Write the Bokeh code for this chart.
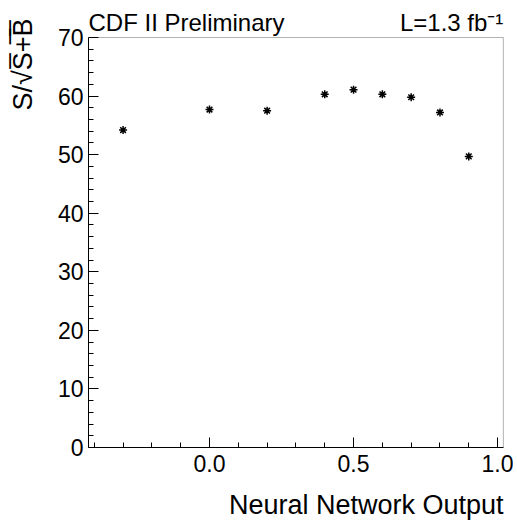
import numpy as np
from bokeh.plotting import figure
from bokeh.models import Label, Title, FixedTicker, Range1d, NumeralTickFormatter, BoxAnnotation
from bokeh.embed import file_html
from bokeh.resources import INLINE

nn_output = [-0.3, 0.0, 0.2, 0.4, 0.5, 0.6, 0.7, 0.8, 0.9]
significance = [54.2, 57.7, 57.5, 60.3, 61.1, 60.3, 59.8, 57.2, 49.7]

x_major = [0.0, 0.5, 1.0]
x_minor = [-0.4, -0.3, -0.2, -0.1, 0.1, 0.2, 0.3, 0.4, 0.6, 0.7, 0.8, 0.9]
y_major = [0, 10, 20, 30, 40, 50, 60, 70]
y_minor = [2, 4, 6, 8, 12, 14, 16, 18, 22, 24, 26, 28, 32, 34, 36, 38,
           42, 44, 46, 48, 52, 54, 56, 58, 62, 64, 66, 68]

FONT = "Liberation Sans"
X0, X1 = -0.42, 1.02     # drawn box in x
Y0, Y1 = 0, 70           # drawn box in y
PX_Y = 410 / 70.0        # px per y unit
PX_X = 416 / 1.444       # px per x unit

p = figure(width=513, height=517, output_backend="svg", toolbar_location=None,
           x_range=Range1d(X0, X0 + 1.444), y_range=Range1d(Y0, Y1 + 29 / PX_Y),
           min_border_left=88, min_border_right=9, min_border_top=8,
           min_border_bottom=70, frame_width=416, frame_height=439)
p.background_fill_color = "white"
p.border_fill_color = "white"
p.outline_line_color = None
p.grid.visible = False

# the histogram box (axes span 0..70)
p.add_layout(BoxAnnotation(right=X1, top=Y1, fill_color=None,
                           line_color="black", line_width=1))

p.xaxis.ticker = FixedTicker(ticks=x_major, minor_ticks=x_minor)
p.yaxis.ticker = FixedTicker(ticks=y_major, minor_ticks=y_minor)
p.yaxis.bounds = (Y0, Y1)
p.xaxis.bounds = (X0, X1)
p.xaxis.formatter = NumeralTickFormatter(format="0.0")
for ax in (p.xaxis, p.yaxis):
    ax.major_tick_in = 10
    ax.major_tick_out = 0
    ax.minor_tick_in = 5
    ax.minor_tick_out = 0
    ax.axis_line_color = "black"
    ax.major_tick_line_color = "black"
    ax.minor_tick_line_color = "black"
    ax.major_label_text_font = FONT
    ax.major_label_text_font_size = "23px"
    ax.major_label_text_color = "black"
p.xaxis.major_label_standoff = 7
p.yaxis.major_label_standoff = 5
p.yaxis.major_label_orientation = "horizontal"

p.scatter(nn_output, significance, marker="asterisk", size=8,
          line_color="black", line_width=1.5)

p.add_layout(Label(x=X0, y=Y1 + 15 / PX_Y,
                   text="CDF II Preliminary", text_font=FONT,
                   text_font_size="24px", text_color="black",
                   text_align="left", text_baseline="alphabetic"))
p.add_layout(Label(x=X1, y=Y1 + 15 / PX_Y,
                   text="L=1.3 fb⁻¹", text_font=FONT,
                   text_font_size="24px", text_color="black",
                   text_align="right", text_baseline="alphabetic"))
p.add_layout(Title(text="Neural Network Output", align="right", text_font=FONT,
                   text_font_size="27px", text_font_style="normal",
                   vertical_align="top",
                   text_color="black", standoff=30, offset=1), "below")
# y-axis title, placed in the left side panel so it is not clipped
p.add_layout(Label(x=X0 - 65.5 / PX_X, y=Y1 + 19 / PX_Y,
                   text="S/√S̅+̅B̅", text_font=FONT, angle=np.pi / 2,
                   text_font_size="27px", text_color="black",
                   text_align="right", text_baseline="middle"), "left")

open("out.html", "w").write(file_html(p, INLINE))
